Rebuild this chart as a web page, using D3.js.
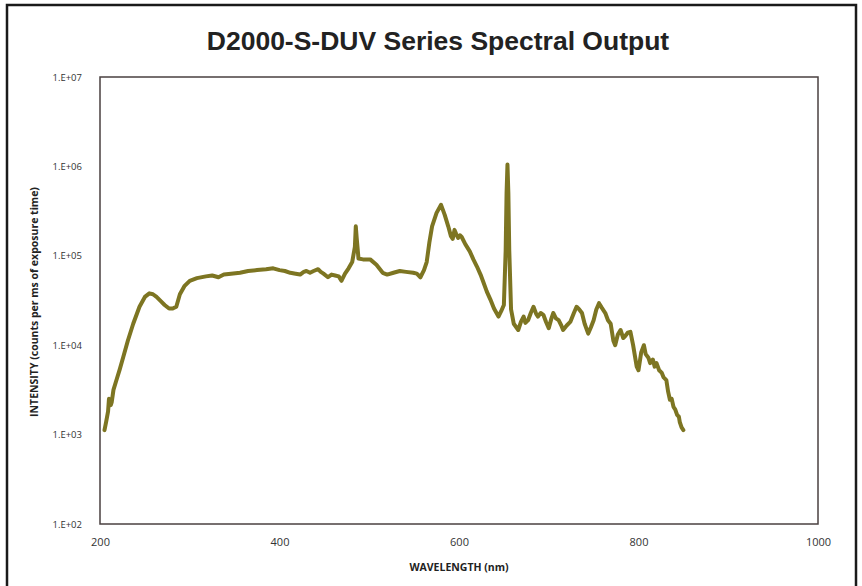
<!DOCTYPE html>
<html>
<head>
	<meta charset="utf-8">
	<title>D2000-S-DUV Series Spectral Output</title>
	<script src="https://d3js.org/d3.v7.min.js" charset="utf-8"></script>
	<style type="text/css">
		body { margin: 0; background: #fff; }
		svg text { font-family: 'Open Sans', 'DejaVu Sans', sans-serif; }
		.tick text { font-size: 9.5px; fill: #333; }
		.xaxis .tick text { font-size: 11px; }
		.title { font-family: 'Liberation Sans', Arial, sans-serif !important; font-weight: bold; font-size: 26.5px; fill: #222; }
		.axis-title { font-weight: bold; font-size: 10.5px; fill: #222; }
	</style>
</head>
<body>
	<script type="text/javascript">
		// wavelength (nm) and intensity (counts per ms)
		var wavelength = [205,207,209,210,212,213,215,218,222,226,231,237,244,250,255,259,263,268,272,277,
			281,285,289,294,300,308,318,325,332,338,346,356,365,375,385,393,400,406,412,418,
			423,427,430,434,438,443,446,449,454,458,462,466,469,473,477,481,484,485,486,488,
			493,501,508,515,520,527,534,541,549,553,557,561,564,567,570,575,580,584,588,591,
			593,595,597,599,601,603,607,612,616,620,624,627,631,635,639,644,647,650,652,653,
			654,655,656,658,661,666,669,672,674,677,680,683,686,688,691,694,697,700,703,705,
			708,711,714,716,720,724,728,731,734,737,740,744,747,750,753,756,759,763,766,769,
			772,774,777,780,783,785,788,791,794,796,798,800,803,806,808,811,813,816,818,820,
			823,826,828,831,833,835,837,839,841,843,845,846,848,850];
		var intensity = [1122,1413,1820,2512,2138,2291,3162,3981,5370,7413,11220,17380,26920,34670,38020,37150,34670,30900,28180,25700,
			25700,26920,37150,45710,52480,56230,58880,60260,57540,61660,63100,64570,67610,69180,70790,72440,69180,67610,64570,63100,
			61660,66070,67610,64570,67610,70790,66070,63100,57540,61660,60260,58880,52480,63100,72440,85110,125900,213800,158500,93330,
			91200,91200,79430,64570,61660,64570,67610,66070,64570,63100,57540,69180,85110,141300,213800,302000,371500,288400,213800,166000,
			154900,195000,173800,158500,169800,162200,134900,112200,91200,75860,61660,51290,39810,32360,25700,20890,23990,28180,114800,501200,
			1047000,501200,114800,25120,17380,14790,18200,20890,17780,19050,22910,26920,22390,20890,22910,21880,18200,15490,19950,22910,
			19950,19050,16600,14790,16600,18200,22910,26920,25120,22910,17380,13490,15850,19050,25120,29510,26300,22910,19050,17380,
			11220,10000,13180,14790,12020,12590,13800,14130,10000,7586,5754,5248,8318,10000,7943,7244,6310,6918,5754,6310,
			5248,4898,4365,4074,3020,2455,2512,2042,1905,1660,1585,1380,1202,1122];

		var xTicks = [200, 400, 600, 800, 1000];
		var yTicks = [1e2, 1e3, 1e4, 1e5, 1e6, 1e7];
		var yTickLabels = ['1.E+02', '1.E+03', '1.E+04', '1.E+05', '1.E+06', '1.E+07'];

		var W = 862, H = 586;
		var plotL = 100, plotR = 818, plotT = 77, plotB = 524;

		var svg = d3.select('body').append('svg')
			.attr('width', W)
			.attr('height', H);

		// outer frame
		svg.append('rect')
			.attr('x', 7).attr('y', 5)
			.attr('width', 849).attr('height', 600)
			.attr('fill', 'none')
			.attr('stroke', '#1a1a1a')
			.attr('stroke-width', 2.5);

		svg.append('text')
			.attr('class', 'title')
			.attr('x', 438).attr('y', 50)
			.attr('text-anchor', 'middle')
			.text('D2000-S-DUV Series Spectral Output');

		var x = d3.scaleLinear().domain([200, 1000]).range([plotL, plotR]);
		var y = d3.scaleLog().domain([1e2, 1e7]).range([plotB, plotT]);

		// plot frame
		svg.append('rect')
			.attr('x', plotL).attr('y', plotT)
			.attr('width', plotR - plotL).attr('height', plotB - plotT)
			.attr('fill', 'none')
			.attr('stroke', '#4a4040')
			.attr('stroke-width', 1.5);

		var xAxis = svg.append('g')
			.attr('class', 'xaxis')
			.attr('transform', 'translate(0,' + plotB + ')')
			.call(d3.axisBottom(x).tickValues(xTicks).tickSize(0).tickPadding(14).tickFormat(d3.format('d')));
		xAxis.select('.domain').remove();

		var yAxis = svg.append('g')
			.attr('transform', 'translate(' + plotL + ',0)')
			.call(d3.axisLeft(y).tickValues(yTicks).tickSize(0).tickPadding(18)
				.tickFormat(function(d, i){ return yTickLabels[i]; }));
		yAxis.select('.domain').remove();

		svg.append('text')
			.attr('class', 'axis-title')
			.attr('x', 459).attr('y', 571)
			.attr('text-anchor', 'middle')
			.text('WAVELENGTH (nm)');

		svg.append('text')
			.attr('class', 'axis-title')
			.attr('transform', 'translate(38,302) rotate(-90)')
			.attr('text-anchor', 'middle')
			.text('INTENSITY (counts per ms of exposure time)');

		var points = wavelength.map(function(d, i){ return [d, intensity[i]]; });

		var line = d3.line()
			.x(function(d){ return x(d[0]); })
			.y(function(d){ return y(d[1]); });

		svg.append('path')
			.datum(points)
			.attr('d', line)
			.attr('fill', 'none')
			.attr('stroke', '#7d7522')
			.attr('stroke-width', 4)
			.attr('stroke-linejoin', 'round')
			.attr('stroke-linecap', 'round');
	</script>
</body>
</html>
